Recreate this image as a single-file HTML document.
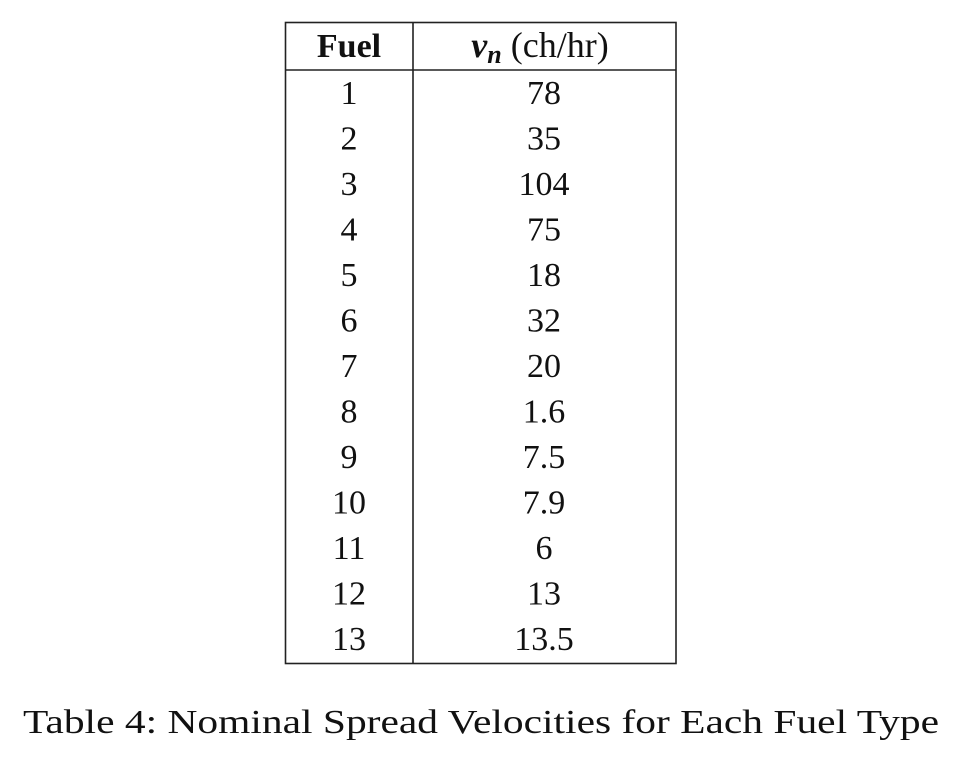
<!DOCTYPE html>
<html><head><meta charset="utf-8"><style>
html,body{margin:0;padding:0;background:#fff;width:962px;height:762px;overflow:hidden}
svg text{font-family:"Liberation Serif",serif;fill:#111}
</style></head><body>
<svg width="962" height="762">
<g stroke="#222" stroke-width="1.6" fill="none">
<rect x="285.5" y="22.5" width="390.5" height="641"/>
<line x1="285.5" y1="70" x2="676" y2="70"/>
<line x1="413" y1="22.5" x2="413" y2="663.5"/>
</g>
<text x="349" y="57" text-anchor="middle" font-size="34" font-weight="bold">Fuel</text>
<text x="540" y="57" text-anchor="middle" font-size="36"><tspan font-style="italic" font-weight="bold">v</tspan><tspan font-style="italic" font-weight="bold" font-size="26" dy="6">n</tspan><tspan dy="-6"> (ch/hr)</tspan></text>
<g id="rows"></g>
<text x="481" y="733" text-anchor="middle" font-size="34" textLength="916" lengthAdjust="spacingAndGlyphs">Table 4: Nominal Spread Velocities for Each Fuel Type</text>
</svg>
<script>
const fuels=["1","2","3","4","5","6","7","8","9","10","11","12","13"];
const velocities=["78","35","104","75","18","32","20","1.6","7.5","7.9","6","13","13.5"];
const g=document.getElementById('rows');
const NS='http://www.w3.org/2000/svg';
fuels.forEach((f,i)=>{
  const y=104+i*45.5;
  const a=document.createElementNS(NS,'text');
  a.setAttribute('x',349);a.setAttribute('y',y);a.setAttribute('text-anchor','middle');a.setAttribute('font-size','34');
  a.textContent=f;
  
  
  g.appendChild(a);
  const b=document.createElementNS(NS,'text');
  b.setAttribute('x',544);b.setAttribute('y',y);b.setAttribute('text-anchor','middle');b.setAttribute('font-size','34');
  b.textContent=velocities[i];
  
  
  g.appendChild(b);
});
</script>
</body></html>
